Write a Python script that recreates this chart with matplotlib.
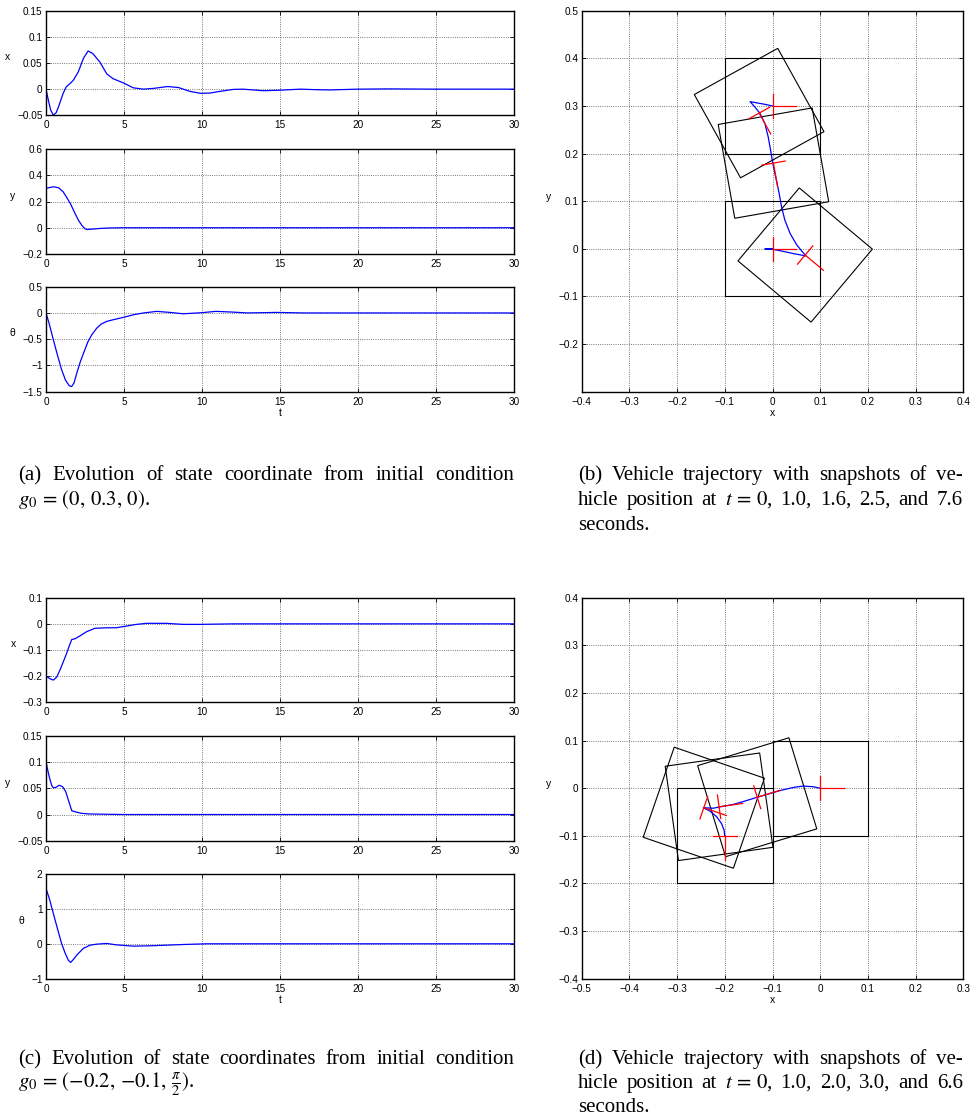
import numpy as np
import matplotlib
matplotlib.use('Agg')
import matplotlib.pyplot as plt
from matplotlib.patches import Rectangle
from matplotlib.ticker import FuncFormatter

plt.rcParams['font.family'] = ['Liberation Sans', 'DejaVu Sans']
plt.rcParams['mathtext.fontset'] = 'stix'

# ---- data ----
# (a) state coordinates, initial condition (0, 0.3, 0)
a_tx = [0, 0.15, 0.3, 0.47, 0.65, 0.8, 1.1, 1.3, 1.55, 1.75, 2.07, 2.4, 2.7, 3.0, 3.45,
        3.9, 4.3, 4.95, 5.6, 6.25, 6.9, 7.8, 8.5, 9.2, 9.9, 10.5, 11.2, 12.0, 12.6, 13.3,
        13.9, 15.0, 16.3, 17.3, 18.2, 20.0, 22.0, 25.0, 30.0]
a_x = [0, -0.021, -0.04, -0.0497, -0.045, -0.034, -0.008, 0.0045, 0.011, 0.017, 0.033,
       0.059, 0.073, 0.068, 0.052, 0.029, 0.020, 0.012, 0.0025, 0.0, 0.0015, 0.005, 0.003,
       -0.004, -0.008, -0.0075, -0.004, -0.0005, 0.0, -0.0015, -0.003, -0.002, 0.0, -0.001,
       -0.0015, 0.0, 0.0005, 0.0, 0.0]
a_ty = [0, 0.25, 0.5, 0.8, 1.1, 1.3, 1.58, 1.86, 2.1, 2.3, 2.5, 2.65, 3.0, 3.5, 4.0, 5.0, 30]
a_y = [0.30, 0.307, 0.312, 0.305, 0.274, 0.236, 0.18, 0.109, 0.053, 0.018, -0.008, -0.013,
       -0.01, -0.005, -0.002, 0.0, 0.0]
a_tth = [0, 0.2, 0.47, 0.75, 1.0, 1.25, 1.5, 1.65, 1.8, 1.97, 2.2, 2.4, 2.7, 2.95, 3.25,
         3.55, 3.9, 4.3, 4.95, 5.6, 6.25, 7.1, 7.95, 8.8, 9.9, 10.9, 12.0, 12.9, 14.8, 16.5,
         20, 30]
a_th = [0, -0.2, -0.51, -0.82, -1.08, -1.28, -1.39, -1.40, -1.33, -1.15, -0.93, -0.77,
        -0.54, -0.41, -0.29, -0.21, -0.16, -0.13, -0.085, -0.035, 0.0, 0.03, 0.01, -0.016,
        0.003, 0.03, 0.016, 0.0, 0.01, 0.0, 0.0, 0.0]

# (b) trajectory and snapshots at t = 0, 1.0, 1.6, 2.5, 7.6
b_px = [0.0, -0.019, -0.047, -0.037, -0.026, -0.016, -0.009, -0.004, 0.0, 0.005, 0.009,
        0.014, 0.019, 0.026, 0.037, 0.051, 0.070, 0.044, 0.016, 0.0, -0.016, 0.0]
b_py = [0.300, 0.304, 0.309, 0.298, 0.284, 0.263, 0.235, 0.207, 0.183, 0.158, 0.140,
        0.116, 0.088, 0.060, 0.032, 0.008, -0.015, -0.010, -0.004, -0.001, 0.0, 0.0]
b_sx = [0.0, -0.028, 0.002, 0.0685, 0.0]
b_sy = [0.3, 0.285, 0.18, -0.013, 0.0]
b_sth = [0, -61, -80, -40, 0]  # heading in degrees

# (c) state coordinates, initial condition (-0.2, -0.1, pi/2)
c_tx = [0, 0.26, 0.47, 0.68, 0.9, 1.11, 1.32, 1.5, 1.65, 1.86, 2.18, 2.6, 3.14, 3.9, 4.5,
        5.2, 5.8, 6.45, 7.7, 8.8, 9.9, 12.0, 30.0]
c_x = [-0.2, -0.21, -0.215, -0.204, -0.176, -0.145, -0.113, -0.083, -0.06, -0.057, -0.046,
       -0.030, -0.017, -0.015, -0.015, -0.008, -0.002, 0.002, 0.002, -0.002, -0.002, 0.0, 0.0]
c_ty = [0, 0.11, 0.21, 0.36, 0.47, 0.64, 0.85, 1.07, 1.26, 1.43, 1.65, 1.92, 2.29, 2.82,
        5.0, 30.0]
c_y = [0.101, 0.085, 0.072, 0.056, 0.051, 0.052, 0.056, 0.053, 0.044, 0.028, 0.0073,
       0.0048, 0.0022, 0.001, 0.0, 0.0]
c_tth = [0, 0.21, 0.47, 0.73, 1.0, 1.22, 1.43, 1.58, 1.75, 2.0, 2.4, 2.82, 3.25, 3.9, 4.5,
         5.6, 6.7, 7.7, 8.8, 10.3, 30.0]
c_th = [1.585, 1.30, 0.87, 0.44, 0.01, -0.26, -0.47, -0.535, -0.45, -0.31, -0.13, -0.04,
        -0.01, 0.01, -0.03, -0.067, -0.057, -0.04, -0.02, 0.0, 0.0]

# (d) trajectory and snapshots at t = 0, 1.0, 2.0, 3.0, 6.6
d_px = [-0.2, -0.2015, -0.207, -0.217, -0.231, -0.245, -0.224, -0.2035, -0.182, -0.161,
        -0.132, -0.105, -0.084, -0.056, -0.035, -0.0144, 0.0]
d_py = [-0.1, -0.088, -0.074, -0.060, -0.048, -0.041, -0.042, -0.038, -0.034, -0.028,
        -0.019, -0.011, -0.005, 0.0017, 0.0045, 0.003, 0.0]
d_sx = [-0.2, -0.244, -0.212, -0.132, 0.0]
d_sy = [-0.1, -0.041, -0.039, -0.019, 0.0]
d_sth = [-90, -19, 8, 17, 0]

W, H = 971, 1120
fig = plt.figure(figsize=(W / 100, H / 100), dpi=100)


def px_axes(left, top, right, bottom):
    return fig.add_axes([left / W, 1 - bottom / H, (right - left) / W, (bottom - top) / H])


def tick_fmt(v, pos):
    return ('%g' % v).replace('-', '\u2212')


def style(ax):
    ax.tick_params(direction='in', top=True, right=True, length=3, width=0.6,
                   labelsize=7.2, colors='k')
    ax.tick_params(axis='y', pad=2.5)
    ax.tick_params(axis='x', pad=3.5)
    ax.xaxis.set_major_formatter(FuncFormatter(tick_fmt))
    ax.yaxis.set_major_formatter(FuncFormatter(tick_fmt))
    ax.grid(True, linestyle=':', color='0.3', lw=0.6)
    ax.set_axisbelow(True)
    for s in ax.spines.values():
        s.set_linewidth(1.0)


def state_panel(top, bottom, t, v, yticks, label, xlabel=None):
    ax = px_axes(46, top, 514, bottom)
    ax.plot(t, v, color='#0000ff', lw=0.9)
    ax.set_xlim(0, 30)
    ax.set_ylim(yticks[0], yticks[-1])
    ax.set_xticks(range(0, 31, 5))
    ax.set_yticks(yticks)
    style(ax)
    ax.set_ylabel(label, rotation=0, ha='right', va='center', y=0.555, labelpad=5, fontsize=7.5)
    if xlabel:
        ax.set_xlabel(xlabel, fontsize=7.5, labelpad=1)
    return ax


def traj_panel(top, bottom, xticks, yticks, ylim, px_, py_, sx, sy, sth):
    ax = px_axes(581.7, top, 963.3, bottom)
    side, arm = 0.2, 0.05
    for x, y, th in zip(sx, sy, sth):
        ax.add_patch(Rectangle((x - side / 2, y - side / 2), side, side, angle=th,
                               rotation_point='center', fill=False, ec='k', lw=0.8, zorder=2))
    ax.plot(px_, py_, color='#0000ff', lw=0.9, zorder=3)
    for x, y, th in zip(sx, sy, sth):
        a = np.deg2rad(th)
        ax.plot([x, x + arm * np.cos(a)], [y, y + arm * np.sin(a)], color='r', lw=0.9, zorder=4)
        ax.plot([x + arm / 2 * np.sin(a), x - arm / 2 * np.sin(a)],
                [y - arm / 2 * np.cos(a), y + arm / 2 * np.cos(a)], color='r', lw=0.9, zorder=4)
    ax.set_xlim(xticks[0], xticks[-1])
    ax.set_ylim(*ylim)
    ax.set_xticks(xticks)
    ax.set_yticks(yticks)
    style(ax)
    ax.set_xlabel('x', fontsize=7.5, labelpad=1)
    ax.set_ylabel('y', rotation=0, ha='right', va='center', y=0.51, labelpad=5, fontsize=7.5)
    return ax


# (a)
state_panel(10.7, 115.3, a_tx, a_x, [-0.05, 0, 0.05, 0.1, 0.15], 'x')
state_panel(149, 254, a_ty, a_y, [-0.2, 0, 0.2, 0.4, 0.6], 'y')
state_panel(286.7, 391.7, a_tth, a_th, [-1.5, -1, -0.5, 0, 0.5], '\u03b8', 't')

# (b)
traj_panel(10.7, 391.7, np.round(np.arange(-4, 5) / 10, 2), np.round(np.arange(-2, 6) / 10, 2),
           (-0.3, 0.5), b_px, b_py, b_sx, b_sy, b_sth)

# (c)
state_panel(597.7, 702.3, c_tx, c_x, [-0.3, -0.2, -0.1, 0, 0.1], 'x')
state_panel(736, 840.7, c_ty, c_y, [-0.05, 0, 0.05, 0.1, 0.15], 'y')
state_panel(874, 978.7, c_tth, c_th, [-1, 0, 1, 2], '\u03b8', 't')

# (d)
traj_panel(597.7, 978.7, np.round(np.arange(-5, 4) / 10, 2), np.round(np.arange(-4, 5) / 10, 2),
           (-0.4, 0.4), d_px, d_py, d_sx, d_sy, d_sth)


# ---- captions, justified like the paper ----
def caption(lines, x0, x1, y0, step=25, size=15):
    r = fig.canvas.get_renderer()
    for i, words in enumerate(lines):
        y = 1 - (y0 + step * i) / H
        texts = [fig.text(0, y, w, family=['Liberation Serif', 'DejaVu Serif'], size=size,
                          va='baseline') for w in words]
        widths = [t.get_window_extent(r).width for t in texts]
        if i < len(lines) - 1 and len(words) > 1:
            gap = (x1 - x0 - sum(widths)) / (len(words) - 1)
        else:
            gap = 0.25 * size * 100 / 72
        x = x0
        for t, w in zip(texts, widths):
            t.set_x(x / W)
            x += w + gap


caption([['(a)', 'Evolution', 'of', 'state', 'coordinate', 'from', 'initial', 'condition'],
         [r'$g_0\,=\,(0,\,0.3,\,0)$.']], 18, 514, 480)
caption([['(b)', 'Vehicle', 'trajectory', 'with', 'snapshots', 'of', 've-'],
         ['hicle', 'position', 'at', r'$t\,=\,0$,', '1.0,', '1.6,', '2.5,', 'and', '7.6'],
         ['seconds.']], 578, 963, 480)
caption([['(c)', 'Evolution', 'of', 'state', 'coordinates', 'from', 'initial', 'condition'],
         [r'$g_0\,=\,({-}0.2,\,{-}0.1,\,\frac{\pi}{2})$.']], 18, 514, 1064, step=24)
caption([['(d)', 'Vehicle', 'trajectory', 'with', 'snapshots', 'of', 've-'],
         ['hicle', 'position', 'at', r'$t\,=\,0$,', '1.0,', '2.0,', '3.0,', 'and', '6.6'],
         ['seconds.']], 578, 963, 1064, step=24)

fig.savefig('out.png', dpi=100)
